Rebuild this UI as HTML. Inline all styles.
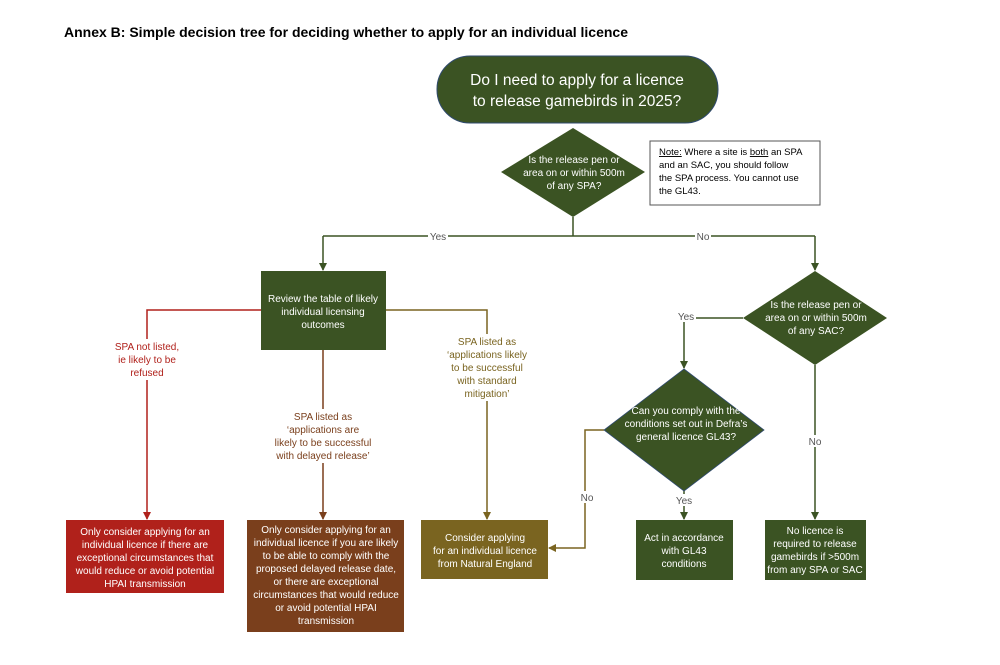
<!DOCTYPE html>
<html><head><meta charset="utf-8"><style>
html,body{margin:0;padding:0;background:#fff;}
svg{display:block;font-family:"Liberation Sans",sans-serif;}
</style></head><body>
<svg width="1000" height="665" viewBox="0 0 1000 665" xmlns="http://www.w3.org/2000/svg">
<defs>
<marker id="ag" markerWidth="8" markerHeight="8" refX="7" refY="4" orient="auto" markerUnits="userSpaceOnUse"><path d="M0,0 L8,4 L0,8 z" fill="#3b5323"/></marker>
<marker id="ar" markerWidth="8" markerHeight="8" refX="7" refY="4" orient="auto" markerUnits="userSpaceOnUse"><path d="M0,0 L8,4 L0,8 z" fill="#b0211b"/></marker>
<marker id="ab" markerWidth="8" markerHeight="8" refX="7" refY="4" orient="auto" markerUnits="userSpaceOnUse"><path d="M0,0 L8,4 L0,8 z" fill="#7a3f1c"/></marker>
<marker id="ao" markerWidth="8" markerHeight="8" refX="7" refY="4" orient="auto" markerUnits="userSpaceOnUse"><path d="M0,0 L8,4 L0,8 z" fill="#7a6420"/></marker>
</defs>
<text x="64" y="37" font-size="14" font-weight="bold" fill="#000">Annex B: Simple decision tree for deciding whether to apply for an individual licence</text>

<g fill="none" stroke-width="1.5">
<path d="M573,217 V236" stroke="#3b5323"/>
<path d="M323,236 H815" stroke="#3b5323"/>
<path d="M323,236 V270" stroke="#3b5323" marker-end="url(#ag)"/>
<path d="M815,236 V270" stroke="#3b5323" marker-end="url(#ag)"/>
<path d="M743,318 H684 V368" stroke="#3b5323" marker-end="url(#ag)"/>
<path d="M815,365 V519" stroke="#3b5323" marker-end="url(#ag)"/>
<path d="M684,491 V519" stroke="#3b5323" marker-end="url(#ag)"/>
<path d="M604,430 H585 V548 H549" stroke="#7a6420" marker-end="url(#ao)"/>
<path d="M261,310 H147 V519" stroke="#b0211b" marker-end="url(#ar)"/>
<path d="M323,350 V519" stroke="#7a3f1c" marker-end="url(#ab)"/>
<path d="M386,310 H487 V519" stroke="#7a6420" marker-end="url(#ao)"/>
</g>

<g font-size="10" fill="#555" text-anchor="middle">
<rect x="428" y="230" width="20" height="12" fill="#fff"/><text x="438" y="240">Yes</text>
<rect x="695" y="230" width="16" height="12" fill="#fff"/><text x="703" y="240">No</text>
<rect x="676" y="310" width="20" height="12" fill="#fff"/><text x="686" y="320">Yes</text>
<rect x="807" y="435" width="16" height="12" fill="#fff"/><text x="815" y="445">No</text>
<rect x="674" y="494" width="20" height="12" fill="#fff"/><text x="684" y="504">Yes</text>
<rect x="579" y="491" width="16" height="12" fill="#fff"/><text x="587" y="501">No</text>
</g>

<rect x="437" y="56" width="281" height="67" rx="33" fill="#3b5323" stroke="#2f4a6e" stroke-width="1"/>
<text x="577" y="85" font-size="15.5" fill="#fff" text-anchor="middle">Do I need to apply for a licence</text>
<text x="577" y="106" font-size="15.5" fill="#fff" text-anchor="middle">to release gamebirds in 2025?</text>

<polygon points="573,128 645,172 573,217 501,172" fill="#3b5323"/>
<g font-size="10" fill="#fff" text-anchor="middle">
<text x="574" y="163">Is the release pen or</text>
<text x="574" y="176">area on or within 500m</text>
<text x="574" y="189">of any SPA?</text>
</g>

<rect x="650" y="141" width="170" height="64" fill="#fff" stroke="#555" stroke-width="1"/>
<g font-size="9.5" fill="#000">
<text x="659" y="155"><tspan text-decoration="underline">Note:</tspan> Where a site is <tspan text-decoration="underline">both</tspan> an SPA</text>
<text x="659" y="168">and an SAC, you should follow</text>
<text x="659" y="181">the SPA process. You cannot use</text>
<text x="659" y="194">the GL43.</text>
</g>

<rect x="261" y="271" width="125" height="79" fill="#3b5323"/>
<g font-size="10" fill="#fff" text-anchor="middle">
<text x="323" y="302">Review the table of likely</text>
<text x="323" y="315">individual licensing</text>
<text x="323" y="328">outcomes</text>
</g>

<polygon points="815,271 887,318 815,365 743,318" fill="#3b5323"/>
<g font-size="10" fill="#fff" text-anchor="middle">
<text x="816" y="308">Is the release pen or</text>
<text x="816" y="321">area on or within 500m</text>
<text x="816" y="334">of any SAC?</text>
</g>

<polygon points="684,369 764,430 684,491 604,430" fill="#3b5323" stroke="#2f4a6e" stroke-width="0.8"/>
<g font-size="10" fill="#fff" text-anchor="middle">
<text x="686" y="414">Can you comply with the</text>
<text x="686" y="427">conditions set out in Defra’s</text>
<text x="686" y="440">general licence GL43?</text>
</g>

<!-- label backgrounds -->
<rect x="108" y="339" width="78" height="41" fill="#fff"/>
<rect x="270" y="409" width="106" height="54" fill="#fff"/>
<rect x="444" y="334" width="86" height="67" fill="#fff"/>

<g font-size="10" text-anchor="middle">
<text x="147" y="350" fill="#b0211b">SPA not listed,</text>
<text x="147" y="363" fill="#b0211b">ie likely to be</text>
<text x="147" y="376" fill="#b0211b">refused</text>
<text x="323" y="420" fill="#7a3f1c">SPA listed as</text>
<text x="323" y="433" fill="#7a3f1c">‘applications are</text>
<text x="323" y="446" fill="#7a3f1c">likely to be successful</text>
<text x="323" y="459" fill="#7a3f1c">with delayed release’</text>
<text x="487" y="345" fill="#7a6420">SPA listed as</text>
<text x="487" y="358" fill="#7a6420">‘applications likely</text>
<text x="487" y="371" fill="#7a6420">to be successful</text>
<text x="487" y="384" fill="#7a6420">with standard</text>
<text x="487" y="397" fill="#7a6420">mitigation’</text>
</g>

<rect x="66" y="520" width="158" height="73" fill="#b0211b"/>
<g font-size="10" fill="#fff" text-anchor="middle">
<text x="145" y="535">Only consider applying for an</text>
<text x="145" y="548">individual licence if there are</text>
<text x="145" y="561">exceptional circumstances that</text>
<text x="145" y="574">would reduce or avoid potential</text>
<text x="145" y="587">HPAI transmission</text>
</g>
<rect x="247" y="520" width="157" height="112" fill="#7a3f1c"/>
<g font-size="10" fill="#fff" text-anchor="middle">
<text x="326" y="533">Only consider applying for an</text>
<text x="326" y="546">individual licence if you are likely</text>
<text x="326" y="559">to be able to comply with the</text>
<text x="326" y="572">proposed delayed release date,</text>
<text x="326" y="585">or there are exceptional</text>
<text x="326" y="598">circumstances that would reduce</text>
<text x="326" y="611">or avoid potential HPAI</text>
<text x="326" y="624">transmission</text>
</g>
<rect x="421" y="520" width="127" height="59" fill="#7a6420"/>
<g font-size="10" fill="#fff" text-anchor="middle">
<text x="485" y="541">Consider applying</text>
<text x="485" y="554">for an individual licence</text>
<text x="485" y="567">from Natural England</text>
</g>
<rect x="636" y="520" width="97" height="60" fill="#3b5323"/>
<g font-size="10" fill="#fff" text-anchor="middle">
<text x="684" y="541">Act in accordance</text>
<text x="684" y="554">with GL43</text>
<text x="684" y="567">conditions</text>
</g>
<rect x="765" y="520" width="101" height="60" fill="#3b5323"/>
<g font-size="10" fill="#fff" text-anchor="middle">
<text x="815" y="534">No licence is</text>
<text x="815" y="547">required to release</text>
<text x="815" y="560">gamebirds if &gt;500m</text>
<text x="815" y="573">from any SPA or SAC</text>
</g>
</svg>
</body></html>
